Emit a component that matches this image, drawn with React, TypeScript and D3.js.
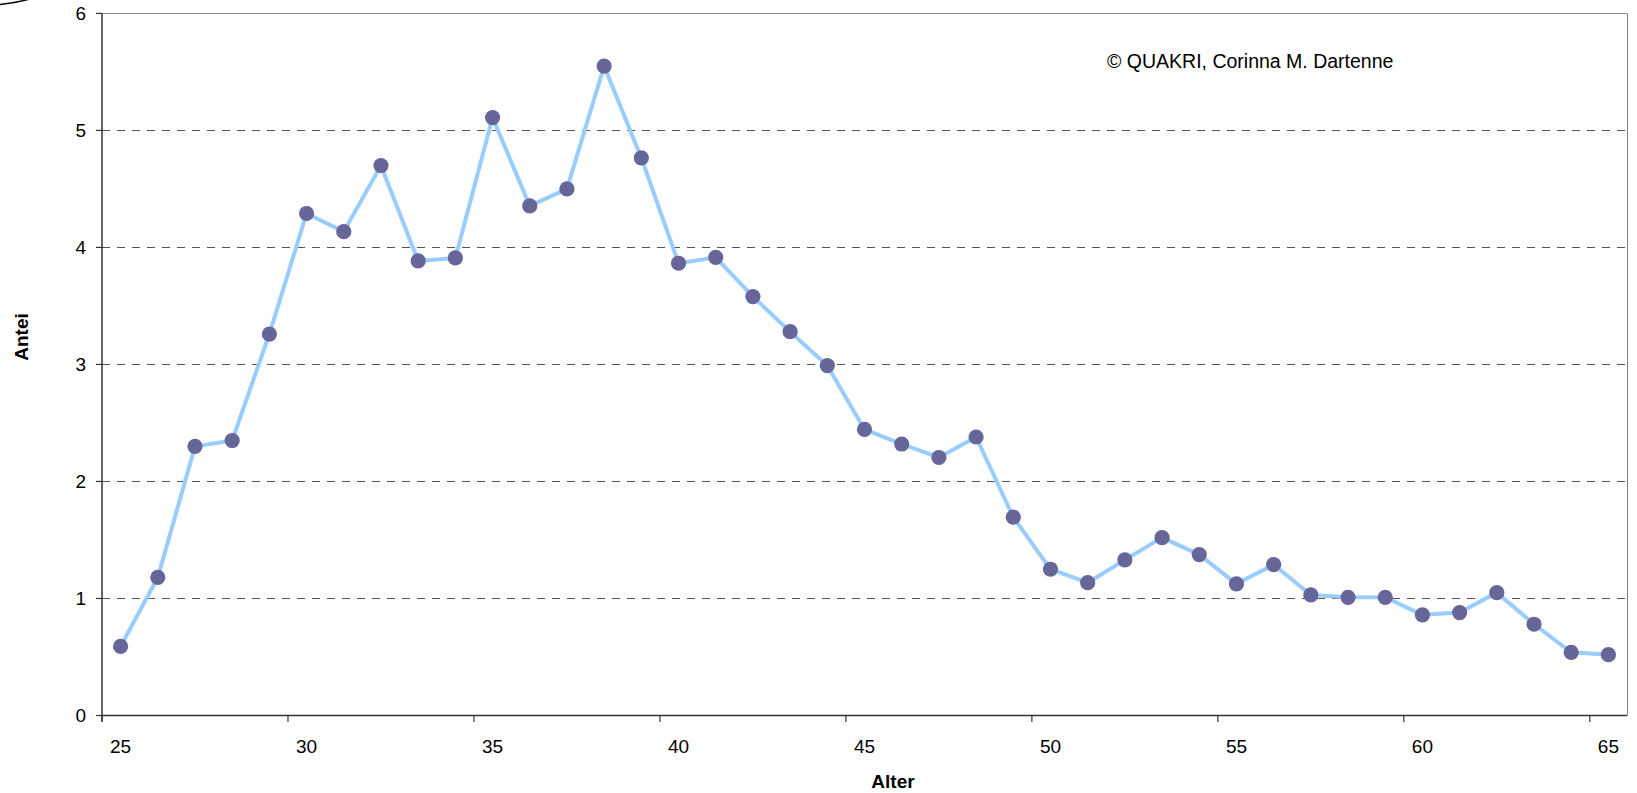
import React from "react";
import * as d3 from "d3";

const ages: number[] = [
  25, 26, 27, 28, 29, 30, 31, 32, 33, 34, 35, 36, 37, 38, 39, 40, 41, 42, 43, 44,
  45, 46, 47, 48, 49, 50, 51, 52, 53, 54, 55, 56, 57, 58, 59, 60, 61, 62, 63, 64, 65,
];
const shares: number[] = [
  0.59, 1.18, 2.30, 2.35, 3.26, 4.29, 4.135, 4.70, 3.885, 3.91, 5.11, 4.355, 4.50, 5.55,
  4.765, 3.865, 3.915, 3.58, 3.28, 2.99, 2.445, 2.32, 2.205, 2.38, 1.695, 1.25, 1.135,
  1.33, 1.52, 1.375, 1.125, 1.29, 1.03, 1.01, 1.01, 0.86, 0.88, 1.05, 0.78, 0.54, 0.52,
];
const yTicks: number[] = [0, 1, 2, 3, 4, 5, 6];
const xTickLabels: number[] = [25, 30, 35, 40, 45, 50, 55, 60, 65];
const yTitle = "Antei";
const xTitle = "Alter";
const copyright = "\u00A9 QUAKRI, Corinna M. Dartenne";

const W = 1637;
const H = 793;
const left = 102;
const right = 1627;
const top = 13.4;
const bottom = 715.5;

export default function App() {
  const x = d3
    .scaleBand<number>()
    .domain(ages)
    .range([left, right])
    .paddingInner(0)
    .paddingOuter(0);
  const y = d3.scaleLinear().domain([0, 6]).range([bottom, top]);
  const cx = (a: number) => (x(a) as number) + x.bandwidth() / 2;

  const line = d3
    .line<number>()
    .x((_, i) => cx(ages[i]))
    .y((d) => y(d));

  const font = "'Liberation Sans', Arial, Helvetica, sans-serif";

  return (
    <svg
      width={W}
      height={H}
      style={{ position: "absolute", left: 0, top: 0, display: "block", background: "#fff" }}
      fontFamily={font}
    >
      <rect x={0} y={0} width={W} height={H} fill="#fff" />
      {/* partial ellipse in top-left corner */}
      <path d="M0,4.5 Q14,3.2 28,-0.5" fill="none" stroke="#000" strokeWidth={1.5} />

      {/* gridlines */}
      {yTicks
        .filter((t) => t > 0 && t < 6)
        .map((t) => (
          <line
            key={"g" + t}
            x1={left}
            x2={right}
            y1={Math.round(y(t)) + 0.5}
            y2={Math.round(y(t)) + 0.5}
            stroke="#555"
            strokeWidth={1}
            strokeDasharray="8,7"
          />
        ))}
      {/* top and right border */}
      <line x1={left} x2={right} y1={Math.round(top) + 0.5} y2={Math.round(top) + 0.5} stroke="#888" strokeWidth={1} />
      <line x1={right + 0.5} x2={right + 0.5} y1={top} y2={bottom} stroke="#888" strokeWidth={1} />

      {/* y axis */}
      <line x1={left} x2={left} y1={top} y2={bottom + 6} stroke="#333" strokeWidth={1.5} />
      {yTicks.map((t) => (
        <g key={"y" + t}>
          <line x1={left - 6} x2={left} y1={y(t)} y2={y(t)} stroke="#333" strokeWidth={1.2} />
          <text x={86} y={y(t)} dy="0.35em" textAnchor="end" fontSize={19} fill="#000">
            {t}
          </text>
        </g>
      ))}

      {/* x axis */}
      <line x1={left} x2={right} y1={bottom} y2={bottom} stroke="#333" strokeWidth={1.5} />
      {xTickLabels.map((a) => (
        <g key={"x" + a}>
          <line x1={x(a) as number} x2={x(a) as number} y1={bottom} y2={bottom + 6.5} stroke="#333" strokeWidth={1.2} />
          <text x={cx(a)} y={752.5} textAnchor="middle" fontSize={19} fill="#000">
            {a}
          </text>
        </g>
      ))}

      {/* series */}
      <path d={line(shares) || ""} fill="none" stroke="#99CCFF" strokeWidth={4} strokeLinejoin="round" />
      {shares.map((v, i) => (
        <circle key={"p" + i} cx={cx(ages[i])} cy={y(v)} r={7.6} fill="#666699" />
      ))}

      {/* titles */}
      <text
        transform={`translate(21,337) rotate(-90)`}
        textAnchor="middle"
        dy="0.35em"
        fontSize={19}
        fontWeight="bold"
        fill="#000"
      >
        {yTitle}
      </text>
      <text x={893} y={781} dy="0.35em" textAnchor="middle" fontSize={19} fontWeight="bold" fill="#000">
        {xTitle}
      </text>
      <text x={1107} y={68.3} fontSize={19.5} fill="#000">
        {copyright}
      </text>
    </svg>
  );
}
